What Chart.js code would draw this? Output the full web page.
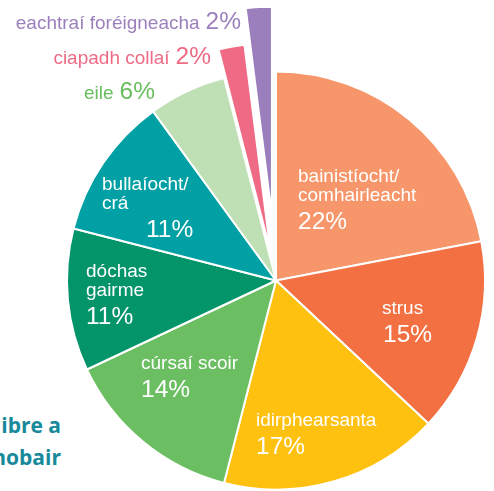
<!DOCTYPE html>
<html>
<head>
<meta charset="utf-8">
<script src="https://cdn.jsdelivr.net/npm/chart.js@4.4.1/dist/chart.umd.min.js"></script>
<style>
html, body { margin: 0; padding: 0; background: #fff; }
#wrap { position: relative; width: 494px; height: 491px; overflow: hidden; }
#side {
    position: absolute; right: 433px; top: 409px;
    font: bold 21px 'Open Sans', sans-serif; line-height: 32px;
    color: #17899b; text-align: right; white-space: nowrap;
}
#box { position: absolute; left: 0; top: 0; width: 494px; height: 491px; }
</style>
</head>
<body>
<div id="wrap">
    <div id="side"><div>ibre a</div><div>nobair</div></div>
    <div id="box"><canvas id="c"></canvas></div>
</div>
<script>
// data
const categories = ['bainistíocht/comhairleacht', 'strus', 'idirphearsanta', 'cúrsaí scoir', 'dóchas gairme', 'bullaíocht/crá', 'eile', 'ciapadh collaí', 'eachtraí foréigneacha'];
const shares = [22, 15, 17, 14, 11, 11, 6, 2, 2];
const labelLines = [['bainistíocht/', 'comhairleacht'], ['strus'], ['idirphearsanta'], ['cúrsaí scoir'], ['dóchas', 'gairme'], ['bullaíocht/', 'crá'], ['eile'], ['ciapadh collaí'], ['eachtraí foréigneacha']];

// looks
const sliceColours = ['#f6966a', '#f37042', '#fec10f', '#6cbe63', '#039469', '#00a0a4', '#bfdfb5', '#ef6a84', '#9b7fbc'];
const explode = [0, 0, 0, 0, 0, 0, 0, 29, 65]; // px pulled out along the slice middle
const nameFont = '19px "Liberation Sans", Arial, sans-serif';
const pctFont = '24.5px "Liberation Sans", Arial, sans-serif';
// label anchors, px from pie centre (inside: left/first baseline, outside: right/baseline)
const labelSpots = [
    {dx: 22, dy: -98.5},
    {dx: 106, dy: 33.5, pctDx: 1},
    {dx: -20, dy: 145.5},
    {dx: -135, dy: 88.5},
    {dx: -190, dy: -3.5},
    {dx: -174, dy: -90.5, pctDx: 44},
    {dx: -121, dy: -181.5, outside: true, colour: '#6bbd62'},
    {dx: -65, dy: -216.5, outside: true, colour: '#ef6a84'},
    {dx: -35, dy: -251.5, outside: true, colour: '#9b7fbc'}
];

// move the small slices out whole (chart.js offset also narrows and grows them)
const explodeSlices = {
    id: 'explodeSlices',
    afterDatasetUpdate(chart, args) {
        args.meta.data.forEach((arc, i) => {
            let shift = explode[i];
            if (!shift) return;
            let mid = (arc.startAngle + arc.endAngle) / 2;
            arc.x += Math.cos(mid) * shift;
            arc.y += Math.sin(mid) * shift;
        });
    }
};

const pieLabels = {
    id: 'pieLabels',
    afterDatasetsDraw(chart) {
        let ctx = chart.ctx;
        let arcs = chart.getDatasetMeta(0).data;
        let cx = arcs[0].x, cy = arcs[0].y;
        ctx.save();
        ctx.textBaseline = 'alphabetic';
        labelSpots.forEach((spot, i) => {
            let pct = shares[i] + '%';
            let x = cx + spot.dx, y = cy + spot.dy;
            if (spot.outside) {
                ctx.textAlign = 'right';
                ctx.fillStyle = spot.colour;
                ctx.font = pctFont;
                ctx.fillText(pct, x, y);
                let w = ctx.measureText(pct).width;
                ctx.font = nameFont;
                ctx.fillText(labelLines[i].join(' '), x - w - 6, y);
            } else {
                ctx.textAlign = 'left';
                ctx.fillStyle = '#ffffff';
                ctx.font = nameFont;
                labelLines[i].forEach((line, j) => ctx.fillText(line, x, y + j * 19));
                ctx.font = pctFont;
                ctx.fillText(pct, x + (spot.pctDx || 0), y + (labelLines[i].length - 1) * 19 + 28);
            }
        });
        ctx.restore();
    }
};

new Chart(document.getElementById('c'), {
    type: 'pie',
    data: {
        labels: categories,
        datasets: [{
            data: shares,
            backgroundColor: sliceColours,
            borderColor: '#ffffff',
            borderWidth: 2,
            clip: false
        }]
    },
    options: {
        responsive: true,
        maintainAspectRatio: false,
        animation: false,
        events: [],
        radius: 209,
        layout: {padding: {left: 58, right: 0, top: 70, bottom: 0}},
        plugins: {legend: {display: false}, tooltip: {enabled: false}}
    },
    plugins: [explodeSlices, pieLabels]
});
</script>
</body>
</html>
